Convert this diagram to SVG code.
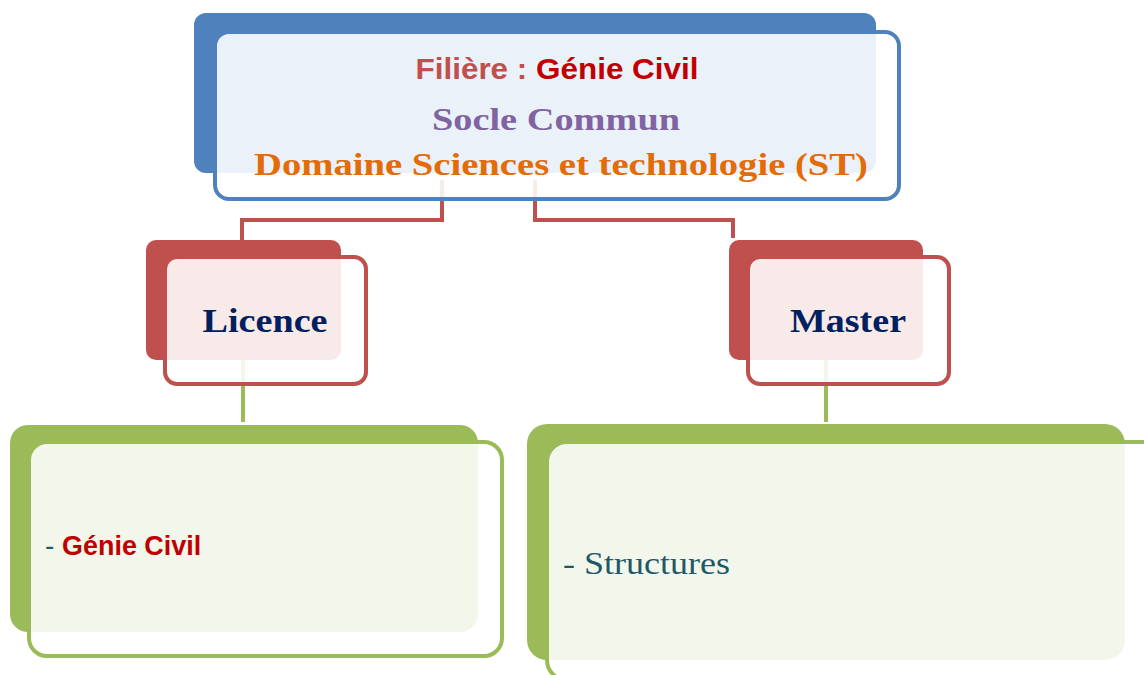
<svg xmlns="http://www.w3.org/2000/svg" width="1144" height="675" viewBox="0 0 1144 675">
  <style>
    .blue-back{fill:#4F81BD}
    .blue-front{fill:#fff;fill-opacity:0.89;stroke:#4F81BD;stroke-width:4}
    .red-back{fill:#C0504D}
    .red-front{fill:#fff;fill-opacity:0.88;stroke:#C0504D;stroke-width:4}
    .green-back{fill:#9BBB59}
    .green-front{fill:#fff;fill-opacity:0.88;stroke:#9BBB59;stroke-width:4}
    .conn-red{fill:none;stroke:#C0504D;stroke-width:4}
    .conn-green{fill:none;stroke:#9BBB59;stroke-width:4}
    .sans{font-family:"Liberation Sans",Arial,sans-serif;font-weight:bold}
    .serif{font-family:"Liberation Serif","Times New Roman",serif}
  </style>
  <rect width="1144" height="675" fill="#fff"/>
  <g id="connectors">
    <path class="conn-red" d="M442,180 V220 H242 V242"/>
    <path class="conn-red" d="M535,180 V220 H733 V238"/>
    <path class="conn-green" d="M243,350 V422"/>
    <path class="conn-green" d="M826,350 V422"/>
  </g>
  <g id="node-top">
    <rect class="blue-back" x="194" y="13" width="682" height="160" rx="12"/>
    <rect class="blue-front" x="215" y="32" width="684" height="167" rx="14"/>
    <text class="sans" x="557" y="79" font-size="30" text-anchor="middle" textLength="283" lengthAdjust="spacingAndGlyphs"><tspan fill="#C0504D">Filière : </tspan><tspan fill="#C00000">Génie Civil</tspan></text>
    <text class="serif" x="556" y="130" font-size="31" font-weight="bold" fill="#8064A2" text-anchor="middle" textLength="248" lengthAdjust="spacingAndGlyphs">Socle Commun</text>
    <text class="serif" x="561" y="175" font-size="31" font-weight="bold" fill="#E36C09" text-anchor="middle" textLength="614" lengthAdjust="spacingAndGlyphs">Domaine Sciences et technologie (ST)</text>
  </g>
  <g id="node-licence">
    <rect class="red-back" x="146" y="240" width="195" height="120" rx="10"/>
    <rect class="red-front" x="165" y="257" width="201" height="127" rx="12"/>
    <text class="serif" x="265" y="332" font-size="33" font-weight="bold" fill="#002060" text-anchor="middle" textLength="125" lengthAdjust="spacingAndGlyphs">Licence</text>
  </g>
  <g id="node-master">
    <rect class="red-back" x="729" y="240" width="194" height="120" rx="10"/>
    <rect class="red-front" x="748" y="257" width="201" height="127" rx="12"/>
    <text class="serif" x="848" y="332" font-size="33" font-weight="bold" fill="#002060" text-anchor="middle" textLength="116" lengthAdjust="spacingAndGlyphs">Master</text>
  </g>
  <g id="node-licence-list">
    <rect class="green-back" x="10" y="425" width="468" height="207" rx="18"/>
    <rect class="green-front" x="29" y="442" width="473" height="214" rx="18"/>
    <text class="sans" x="45" y="555" font-size="28"><tspan fill="#215868" font-weight="normal">- </tspan><tspan fill="#C00000" textLength="139" lengthAdjust="spacingAndGlyphs">Génie Civil</tspan></text>
  </g>
  <g id="node-master-list">
    <rect class="green-back" x="527" y="424" width="598" height="236" rx="20"/>
    <rect class="green-front" x="547" y="442" width="620" height="238" rx="20"/>
    <text class="serif" x="563" y="574" font-size="32" fill="#215868" textLength="167" lengthAdjust="spacingAndGlyphs">- Structures</text>
  </g>
</svg>
